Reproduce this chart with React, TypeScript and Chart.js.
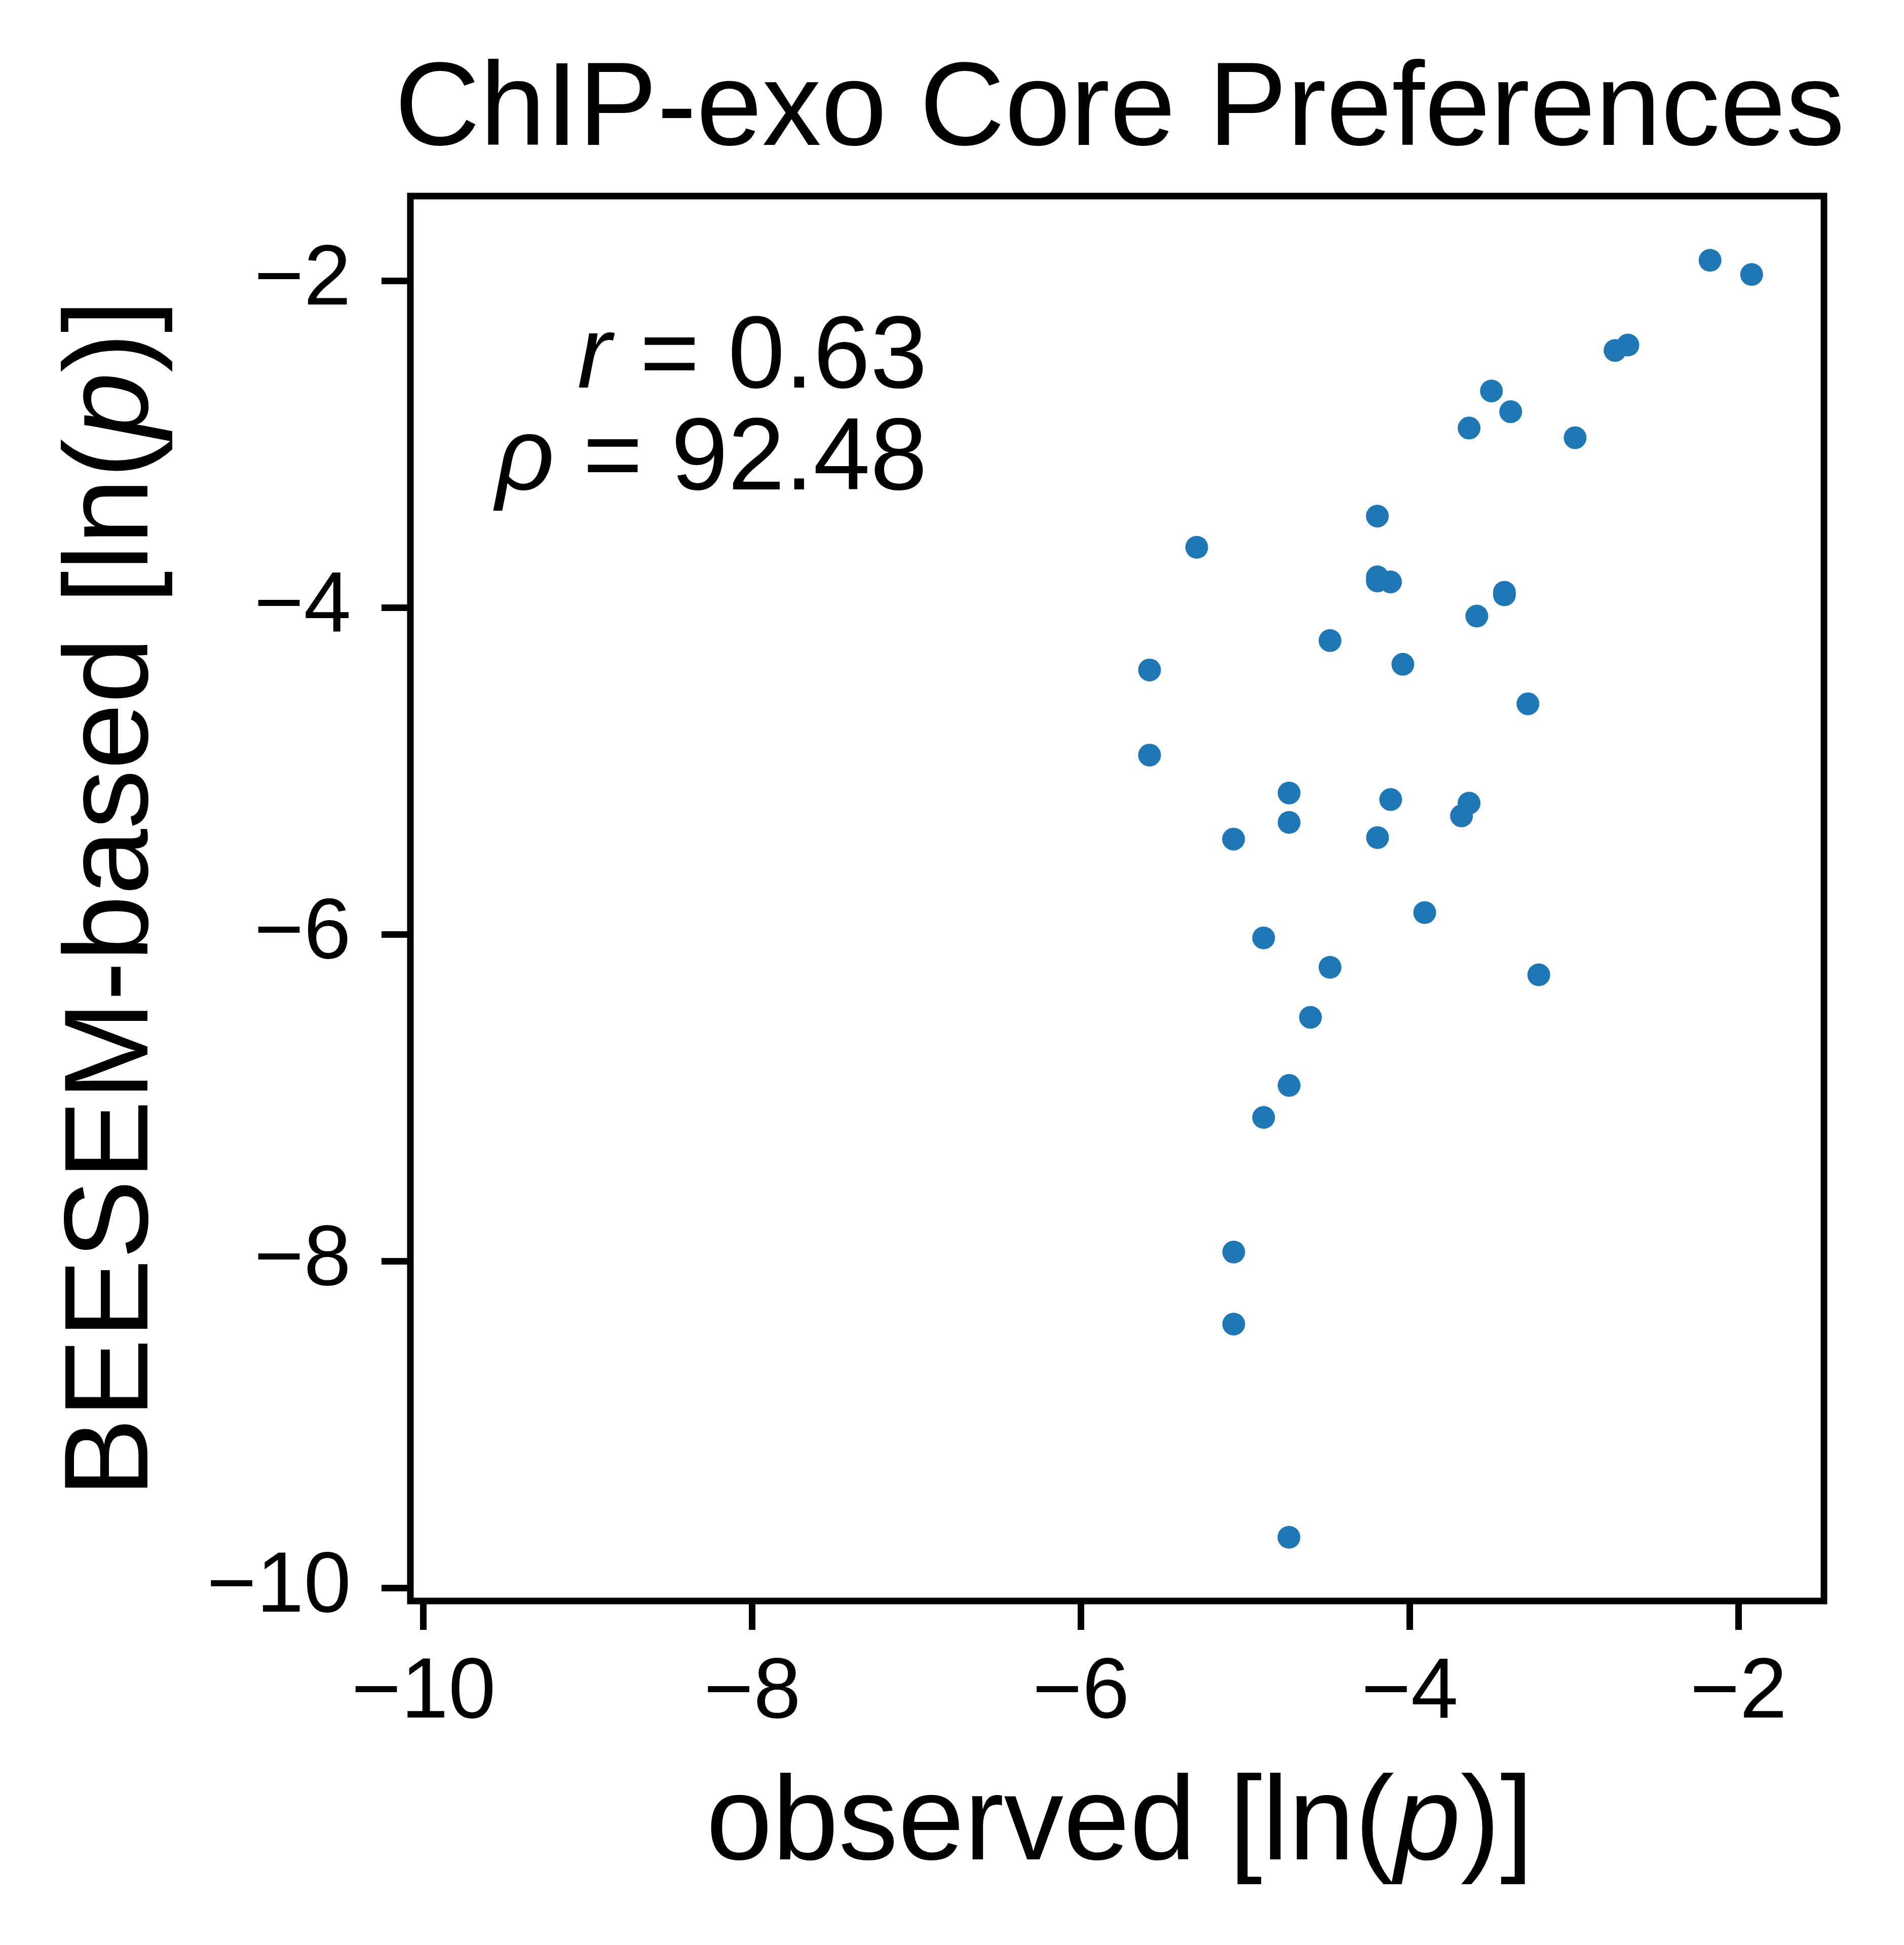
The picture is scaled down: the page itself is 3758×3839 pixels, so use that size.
import React, { useEffect, useRef } from "react";
import { Chart, registerables } from "chart.js";

Chart.register(...registerables);

// observed ln(p) vs BEESEM-based ln(p)
const observed = [
  -2.173, -1.92, -2.751, -2.673, -3.503, -3.386, -3.639, -2.994, -4.197, -5.296,
  -4.197, -4.197, -4.117, -3.424, -3.424, -3.592, -4.485, -4.042, -5.583, -3.281,
  -5.583, -4.734, -4.116, -3.639, -3.685, -4.734, -4.196, -5.072, -3.909, -4.889,
  -4.485, -3.215, -4.604, -4.734, -4.889, -5.071, -5.071, -4.735,
];
const beesem = [
  -1.873, -1.96, -2.425, -2.392, -2.673, -2.8, -2.9, -2.959, -3.439, -3.63,
  -3.811, -3.836, -3.842, -3.905, -3.921, -4.051, -4.201, -4.346, -4.381, -4.588,
  -4.902, -5.134, -5.174, -5.196, -5.274, -5.314, -5.407, -5.416, -5.866, -6.021,
  -6.201, -6.247, -6.507, -6.924, -7.12, -7.944, -8.385, -9.69,
];

const xTickValues = [-10, -8, -6, -4, -2];
const yTickValues = [-10, -8, -6, -4, -2];

const titleText = "ChIP-exo Core Preferences";
const xLabelRuns: [string, boolean][] = [["observed [ln(", false], ["p", true], [")]", false]];
const yLabelRuns: [string, boolean][] = [["BEESEM-based [ln(", false], ["p", true], [")]", false]];
const statRuns: [string, boolean][][] = [
  [["r", true], [" = 0.63", false]],
  [["\u03c1", true], [" = 92.48", false]],
];

const FONT = "'Liberation Sans', Arial, Helvetica, sans-serif";
const minus = (v: number) => String(v).replace("-", "\u2212");

function drawRuns(ctx: CanvasRenderingContext2D, runs: [string, boolean][], x: number, y: number, size: number, align: string) {
  const widths = runs.map(([t, it]) => {
    ctx.font = `${it ? "italic " : ""}${size}px ${FONT}`;
    return ctx.measureText(t).width;
  });
  const total = widths.reduce((a, b) => a + b, 0);
  let cx = align === "center" ? x - total / 2 : align === "right" ? x - total : x;
  runs.forEach(([t, it], i) => {
    ctx.font = `${it ? "italic " : ""}${size}px ${FONT}`;
    ctx.fillText(t, cx, y);
    cx += widths[i];
  });
}

const decorations = {
  id: "decorations",
  afterDraw(chart: any) {
    const { ctx, chartArea } = chart;
    const { left, right, top, bottom } = chartArea;
    const midX = (left + right) / 2;
    const midY = (top + bottom) / 2;
    ctx.save();
    ctx.fillStyle = "#000";
    ctx.textAlign = "left";
    ctx.textBaseline = "alphabetic";

    // frame
    ctx.lineWidth = 13;
    ctx.strokeStyle = "#000";
    ctx.strokeRect(left, top, right - left, bottom - top);

    // title
    drawRuns(ctx, [[titleText, false]], midX + 5, 286, 233, "center");

    // x label
    drawRuns(ctx, xLabelRuns, midX + 5, 3670, 235, "center");

    // y label
    ctx.save();
    ctx.translate(291, midY);
    ctx.rotate(-Math.PI / 2);
    drawRuns(ctx, yLabelRuns, 0, 0, 235, "center");
    ctx.restore();

    // r / rho annotation
    drawRuns(ctx, statRuns[0], 1830, 765, 202, "right");
    drawRuns(ctx, statRuns[1], 1830, 966, 202, "right");
    ctx.restore();
  },
};

const App: React.FC = () => {
  const canvasRef = useRef<HTMLCanvasElement | null>(null);
  const chartRef = useRef<Chart | null>(null);

  useEffect(() => {
    document.body.style.margin = "0";
    if (chartRef.current) {
      chartRef.current.destroy();
      chartRef.current = null;
    }
    if (!canvasRef.current) return;

    const points = observed.map((x, i) => ({ x, y: beesem[i] }));
    const tickFont = { family: FONT, size: 168 };
    const grid = {
      drawOnChartArea: false,
      drawTicks: true,
      tickLength: 57,
      tickWidth: 13,
      tickColor: "#000",
    };

    chartRef.current = new Chart(canvasRef.current, {
      type: "scatter",
      data: {
        datasets: [
          {
            data: points,
            backgroundColor: "#1f77b4",
            borderWidth: 0,
            pointRadius: 22.5,
            pointHoverRadius: 22.5,
          },
        ],
      },
      options: {
        animation: false,
        responsive: false,
        devicePixelRatio: 1,
        layout: { padding: { top: 387, right: 158, left: 0, bottom: 0 } },
        plugins: {
          legend: { display: false },
          tooltip: { enabled: false },
          title: { display: false },
        },
        scales: {
          x: {
            type: "linear",
            min: -10.08,
            max: -1.48,
            grid,
            border: { display: false },
            afterBuildTicks: (scale: any) => {
              scale.ticks = xTickValues.map((value) => ({ value }));
            },
            afterFit: (scale: any) => {
              scale.height = 679;
            },
            ticks: {
              color: "#000",
              font: tickFont,
              padding: 26,
              maxRotation: 0,
              callback: (v: any) => minus(v),
            },
          },
          y: {
            type: "linear",
            min: -10.08,
            max: -1.48,
            grid,
            border: { display: false },
            afterBuildTicks: (scale: any) => {
              scale.ticks = yTickValues.map((value) => ({ value }));
            },
            afterFit: (scale: any) => {
              scale.width = 810;
            },
            ticks: {
              color: "#000",
              font: tickFont,
              padding: 60,
              callback: (v: any) => minus(v),
            },
          },
        },
      } as any,
      plugins: [decorations],
    });

    return () => {
      if (chartRef.current) {
        chartRef.current.destroy();
        chartRef.current = null;
      }
    };
  }, []);

  return <canvas ref={canvasRef} width={3758} height={3839} style={{ display: "block" }} />;
};

export default App;
